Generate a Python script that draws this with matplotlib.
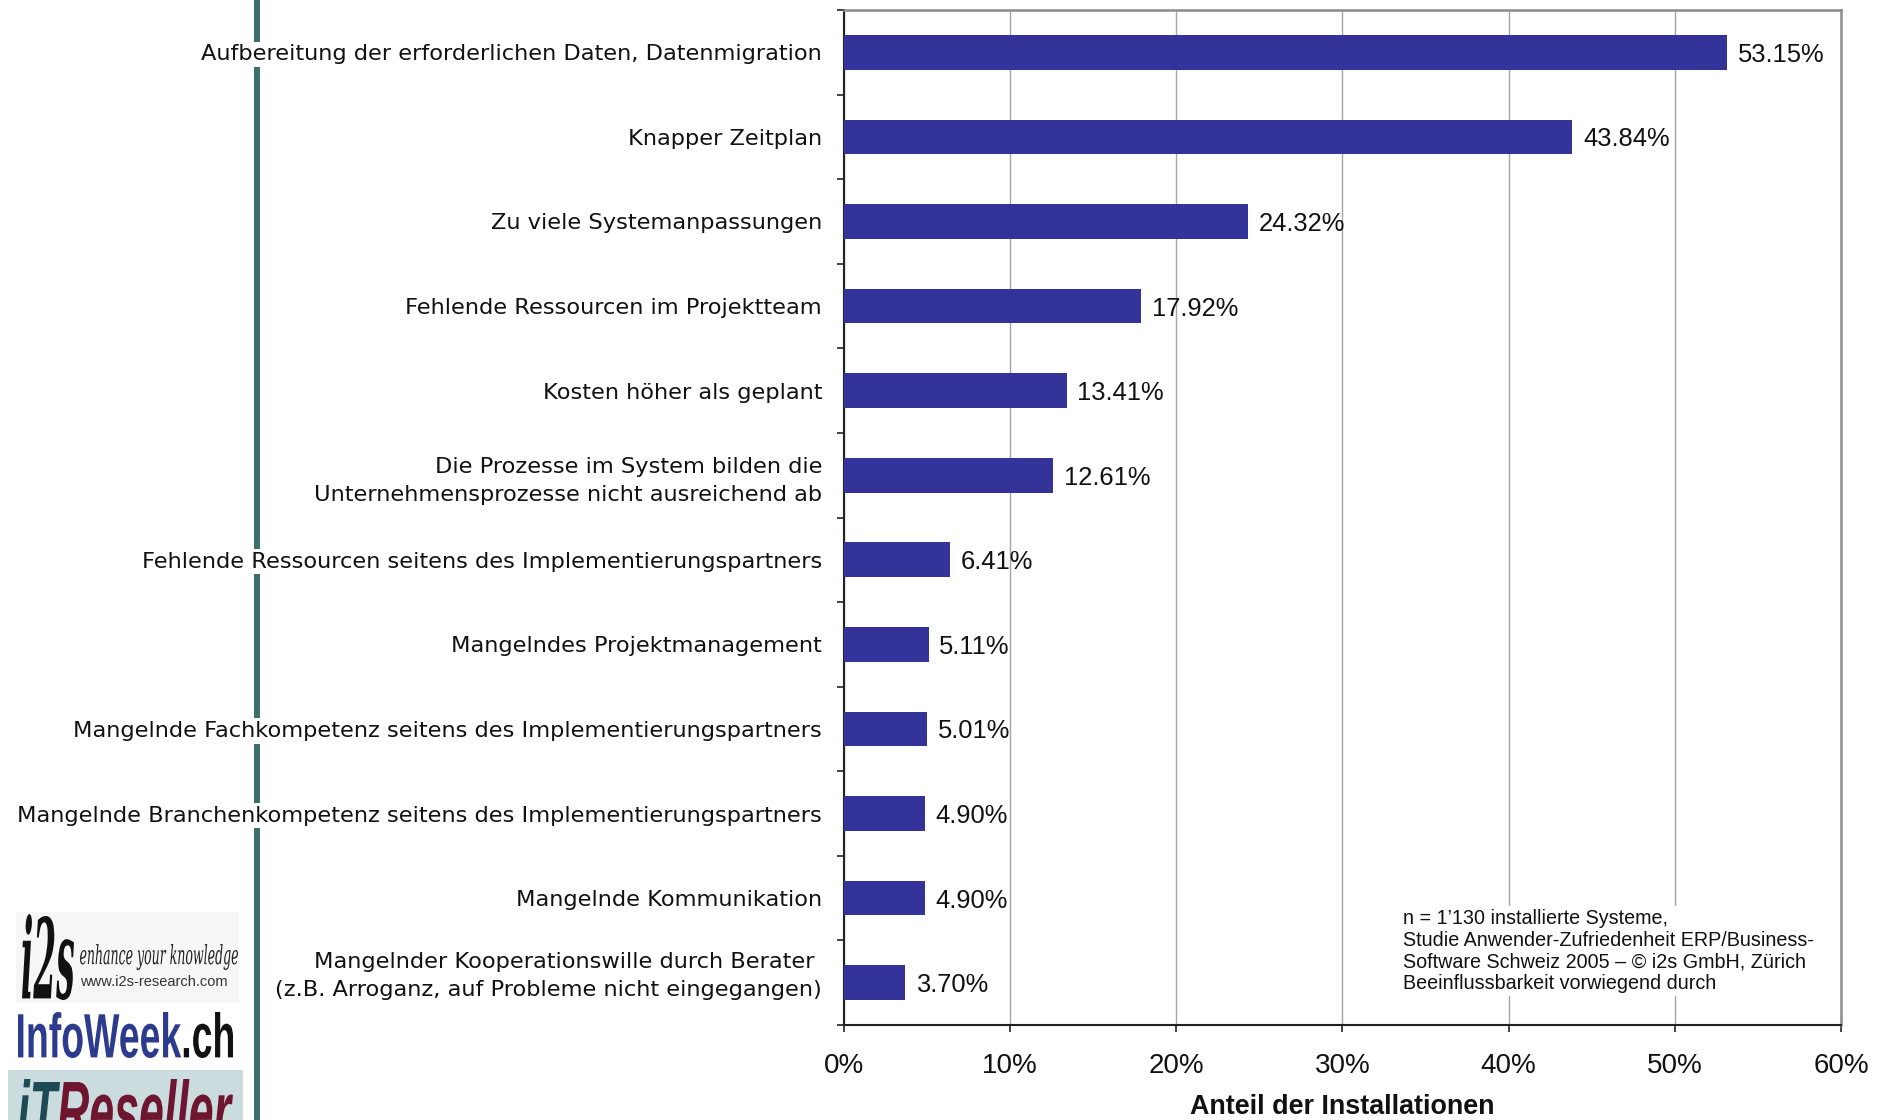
"""Probleme bei der ERP-Einführung — Anteil der Installationen (Balken horizontal, i2s 2005)."""
import numpy as np
import matplotlib; matplotlib.use("Agg")
import matplotlib.pyplot as plt
from matplotlib.lines import Line2D
from matplotlib.patches import PathPatch, Rectangle
from matplotlib.textpath import TextPath
from matplotlib.font_manager import FontProperties
from matplotlib.transforms import Affine2D

W, H = 1887, 1120
SANS = ["Liberation Sans", "DejaVu Sans"]
NARROW = ["Liberation Sans Narrow", "Liberation Sans", "DejaVu Sans"]
BAR, TEAL = "#343399", "#3d6e6e"

# Kategorien (von oben nach unten) + Werte in %
CATEGORIES = [
    "Aufbereitung der erforderlichen Daten, Datenmigration",
    "Knapper Zeitplan",
    "Zu viele Systemanpassungen",
    "Fehlende Ressourcen im Projektteam",
    "Kosten höher als geplant",
    "Die Prozesse im System bilden die\nUnternehmensprozesse nicht ausreichend ab",
    "Fehlende Ressourcen seitens des Implementierungspartners",
    "Mangelndes Projektmanagement",
    "Mangelnde Fachkompetenz seitens des Implementierungspartners",
    "Mangelnde Branchenkompetenz seitens des Implementierungspartners",
    "Mangelnde Kommunikation",
    "Mangelnder Kooperationswille durch Berater \n(z.B. Arroganz, auf Probleme nicht eingegangen)",
]
VALUES = [53.15, 43.84, 24.32, 17.92, 13.41, 12.61, 6.41, 5.11, 5.01, 4.90, 4.90, 3.70]
XTICKS = [0, 10, 20, 30, 40, 50, 60]
XLABELS = [f"{t}%" for t in XTICKS]
NOTE = ("n = 1\u2019130 installierte Systeme,\n"
        "Studie Anwender-Zufriedenheit ERP/Business-\n"
        "Software Schweiz 2005 \u2013 \u00a9 i2s GmbH, Zürich\n"
        "Beeinflussbarkeit vorwiegend durch")

fig = plt.figure(figsize=(W / 100, H / 100), dpi=100)
fig.patch.set_facecolor("white")
ax = fig.add_axes([843.6 / W, 1 - 1025 / H, (1841 - 843.6) / W, (1025 - 10) / H])

n = len(CATEGORIES)
ypos = np.arange(n)
ax.barh(ypos, VALUES, height=0.41, color=BAR, zorder=3)
for y, v in zip(ypos, VALUES):
    ax.text(v + 0.65, y, f"{v:.2f}%", va="center_baseline", ha="left", fontsize=18.4,
            family=SANS, color="#111111", zorder=4)

ax.set_xlim(0, 60)
ax.set_ylim(n - 0.5, -0.5)
ax.set_xticks(XTICKS)
ax.set_xticklabels(XLABELS, family=NARROW, fontsize=20, color="#111111")
ax.tick_params(axis="x", direction="out", length=5, width=1.2, pad=15, color="#222222")
ax.grid(axis="x", color="#a6a6a6", lw=1.0, zorder=0)

# Ticks an den Kategoriegrenzen, Beschriftungen in der Mitte
ax.set_yticks(np.arange(-0.5, n, 1.0))
ax.set_yticklabels([])
ax.tick_params(axis="y", which="major", direction="out", length=5, width=1.2, color="#222222")
ax.set_yticks(ypos, minor=True)
LBL = dict(family="DejaVu Sans", fontsize=16.2, color="#111111", linespacing=1.48,
           multialignment="right")
# letzte (zweizeilige) Beschriftung sitzt im Original etwas höher -> separat
ax.set_yticklabels(CATEGORIES[:-1] + [""], minor=True, **LBL)
ax.tick_params(axis="y", which="minor", length=0, pad=15.5)
for lab in ax.get_yticklabels(minor=True):
    lab.set_bbox(dict(facecolor="white", edgecolor="none", pad=2))
ax.annotate(CATEGORIES[-1], xy=(0, ypos[-1]), xycoords=("axes fraction", "data"),
            xytext=(-15.5, 5), textcoords="offset points", ha="right", va="center",
            annotation_clip=False, **LBL)

for side in ("left", "bottom"):
    ax.spines[side].set_color("#222222"); ax.spines[side].set_linewidth(1.5)
for side in ("top", "right"):
    ax.spines[side].set_color("#8c8c8c"); ax.spines[side].set_linewidth(1.8)

ax.set_xlabel("Anteil der Installationen", family=NARROW, fontsize=19.4,
              fontweight="bold", color="#111111", va="center")
ax.xaxis.set_label_coords(0.5, (1025 - 1107) / (1025 - 10))

fig.text(1403 / W, 1 - 909 / H, NOTE, va="top", ha="left", fontsize=14.2,
         family=SANS, color="#111111", linespacing=1.18,
         bbox=dict(facecolor="white", edgecolor="none", pad=2))

# senkrechte Linie links
fig.add_artist(Line2D([257 / W] * 2, [0, 1], transform=fig.transFigure,
                      color=TEAL, lw=4.3, zorder=-1))


# Logos unten links als Textpfade
def logo(segments, x0, x1, ytop, ybot, prop, zorder=5):
    full = "".join(t for t, _ in segments)
    ext = TextPath((0, 0), full, size=1, prop=prop).get_extents()
    sx = (x1 - x0) / ext.width
    sy = (ybot - ytop) / ext.height
    acc = ""
    for t, col in segments:
        acc += t
        tp = TextPath((0, 0), t, size=1, prop=prop)
        dx = TextPath((0, 0), acc, size=1, prop=prop).get_extents().x1 - tp.get_extents().x1
        tr = (Affine2D().translate(dx - ext.x0, -ext.y0).scale(sx / W, sy / H)
              .translate(x0 / W, 1 - ybot / H) + fig.transFigure)
        fig.add_artist(PathPatch(tp, transform=tr, fc=col, ec="none", zorder=zorder))


fig.add_artist(Rectangle((16 / W, 1 - 1003 / H), 223 / W, 91 / H, transform=fig.transFigure,
                         fc="#f6f6f6", ec="none", zorder=1))
logo([("i2s", "#111111")], 22, 74, 914, 1000,
     FontProperties(family="DejaVu Serif", weight="bold", style="italic"))
logo([("enhance your knowledge", "#222222")], 80, 238, 944, 970,
     FontProperties(family="DejaVu Serif", style="italic"))
fig.text(80 / W, 1 - 982 / H, "www.i2s-research.com", va="center", ha="left",
         fontsize=10.5, family=SANS, color="#333333", zorder=6)

logo([("InfoWeek", "#2d3b8e"), (".ch", "#111111")], 18, 233, 1012, 1058,
     FontProperties(family=NARROW, weight="bold"))

fig.add_artist(Rectangle((8 / W, 0), 235 / W, 1 - 1070 / H, transform=fig.transFigure,
                         fc="#cbdcdf", ec="none", zorder=1))
logo([("iT", "#1d4a55"), ("Reseller", "#6e1630")], 18, 233, 1079, 1140,
     FontProperties(family=NARROW, weight="bold", style="italic"))

fig.savefig("out.png", dpi=100, facecolor="white")
plt.close(fig)
